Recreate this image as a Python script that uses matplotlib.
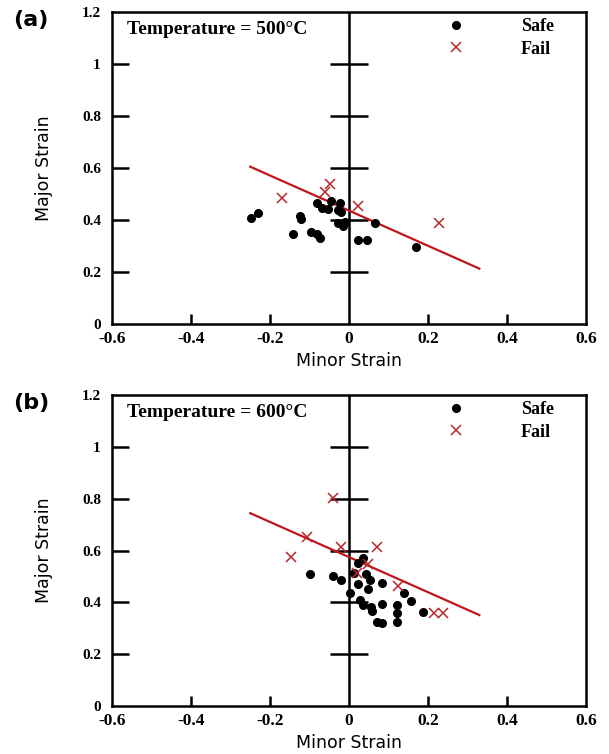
import numpy as np
import matplotlib
matplotlib.use("Agg")
import matplotlib.pyplot as plt

# ---------------- data ----------------
temps = ["500", "600"]
panel_labels = ["(a)", "(b)"]

safe_a_x = [-0.248, -0.230, -0.124, -0.122, -0.143, -0.095, -0.082, -0.073, -0.082, -0.068,
            -0.052, -0.046, -0.023, -0.027, -0.020, -0.027, -0.014, -0.010, 0.024, 0.045,
            0.066, 0.169]
safe_a_y = [0.406, 0.428, 0.417, 0.404, 0.345, 0.353, 0.347, 0.330, 0.464, 0.447,
            0.441, 0.475, 0.464, 0.438, 0.431, 0.387, 0.377, 0.392, 0.323, 0.323,
            0.387, 0.297]
fail_a_x = [-0.170, -0.048, -0.061, 0.024, 0.227]
fail_a_y = [0.485, 0.540, 0.506, 0.452, 0.387]
line_a_x = [-0.25, 0.33]
line_a_y = [0.605, 0.213]

safe_b_x = [-0.100, -0.040, -0.021, 0.002, 0.024, 0.036, 0.013, 0.042, 0.052, 0.024,
            0.048, 0.084, 0.028, 0.036, 0.055, 0.059, 0.083, 0.121, 0.121, 0.121,
            0.072, 0.084, 0.139, 0.158, 0.187]
safe_b_y = [0.509, 0.501, 0.486, 0.437, 0.552, 0.572, 0.514, 0.511, 0.488, 0.469,
            0.451, 0.473, 0.409, 0.390, 0.383, 0.367, 0.392, 0.390, 0.358, 0.323,
            0.326, 0.320, 0.437, 0.405, 0.362]
fail_b_x = [-0.041, -0.107, -0.146, -0.021, 0.070, 0.049, 0.021, 0.125, 0.215, 0.239]
fail_b_y = [0.802, 0.652, 0.575, 0.613, 0.613, 0.549, 0.515, 0.463, 0.360, 0.360]
line_b_x = [-0.25, 0.33]
line_b_y = [0.744, 0.351]

x_ticks = [-0.6, -0.4, -0.2, 0, 0.2, 0.4, 0.6]
x_tick_labels = ["-0.6", "-0.4", "-0.2", "0", "0.2", "0.4", "0.6"]
y_ticks = [0, 0.2, 0.4, 0.6, 0.8, 1.0, 1.2]
y_tick_labels = ["0", "0.2", "0.4", "0.6", "0.8", "1", "1.2"]

panels = [
    (safe_a_x, safe_a_y, fail_a_x, fail_a_y, line_a_x, line_a_y),
    (safe_b_x, safe_b_y, fail_b_x, fail_b_y, line_b_x, line_b_y),
]

# ---------------- style ----------------
serif = "Liberation Serif"
red_line = "#c0161b"
red_x = "#b8272c"

fig = plt.figure(figsize=(6.09, 7.54), dpi=100)
W, H = 609, 754
axes_px = [(112, 12, 586, 324), (112, 395, 586, 706)]

for i, (sx, sy, fx, fy, lx, ly) in enumerate(panels):
    l, t, r, b = axes_px[i]
    ax = fig.add_axes([l / W, 1 - b / H, (r - l) / W, (b - t) / H])
    ax.set_xlim(-0.6, 0.6)
    ax.set_ylim(0, 1.2)
    for sp in ax.spines.values():
        sp.set_linewidth(1.8)
        sp.set_color("black")

    # central axis with cross ticks
    ax.axvline(0, color="black", lw=1.8, zorder=2)
    ax.plot([0] * 5, y_ticks[1:6], linestyle="none", marker="_", ms=27,
            mew=1.8, color="black", zorder=2)

    ax.plot(lx, ly, color=red_line, lw=1.6, zorder=3)
    ax.plot(sx, sy, linestyle="none", marker="o", ms=5.5, color="black",
            zorder=4, label="Safe")
    ax.plot(fx, fy, linestyle="none", marker="x", ms=7, mew=1.1, color=red_x,
            zorder=5, label="Fail")

    ax.set_xticks(x_ticks)
    ax.set_xticklabels(x_tick_labels)
    ax.set_yticks(y_ticks)
    ax.set_yticklabels(y_tick_labels)
    ax.tick_params(axis="x", direction="in", length=7, width=1.8, pad=5,
                   top=False)
    ax.tick_params(axis="y", direction="in", length=12, width=1.8, pad=8,
                   right=False)
    for tk in [ax.xaxis.get_major_ticks()[0], ax.xaxis.get_major_ticks()[3],
               ax.xaxis.get_major_ticks()[-1]]:
        tk.tick1line.set_visible(False)
    for tk in [ax.yaxis.get_major_ticks()[0], ax.yaxis.get_major_ticks()[-1]]:
        tk.tick1line.set_visible(False)
    for lab in ax.get_xticklabels():
        lab.set_fontfamily(serif)
        lab.set_fontweight("bold")
        lab.set_fontsize(12.5)
    for lab in ax.get_yticklabels():
        lab.set_fontfamily(serif)
        lab.set_fontweight("bold")
        lab.set_fontsize(11)

    ax.set_xlabel("Minor Strain", fontsize=12.5, fontfamily="DejaVu Sans",
                  labelpad=4)
    ax.set_ylabel("Major Strain", fontsize=12.5, fontfamily="DejaVu Sans")
    ax.yaxis.set_label_coords(-0.125, 0.5)

    ax.text(0.032, 0.945, "Temperature = %s°C" % temps[i], transform=ax.transAxes,
            fontfamily=serif, fontweight="bold", fontsize=14, va="center",
            ha="left")
    ax.legend(loc="upper right", bbox_to_anchor=(0.955, 1.015), frameon=False,
              handletextpad=2.6, labelspacing=0.3, borderaxespad=0.2,
              prop={"family": serif, "weight": "bold", "size": 13})

    fig.text(13 / W, 1 - (20 + (395 - 12) * i) / H, panel_labels[i],
             fontsize=16, fontweight="bold", fontfamily="DejaVu Sans",
             va="center", ha="left")

fig.savefig("out.png", dpi=100, facecolor="white")
